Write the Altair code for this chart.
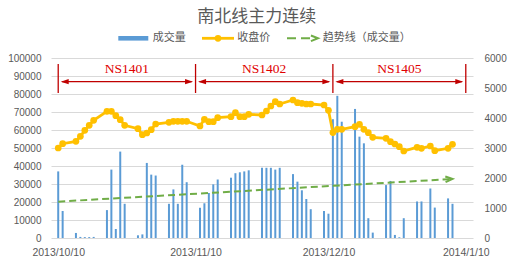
import altair as alt
import pandas as pd

# ---------------- data ----------------
dates = [
    "2013-10-10", "2013-10-11", "2013-10-14", "2013-10-15", "2013-10-16", "2013-10-17", "2013-10-18",
    "2013-10-21", "2013-10-22", "2013-10-23", "2013-10-24", "2013-10-25",
    "2013-10-28", "2013-10-29", "2013-10-30", "2013-10-31", "2013-11-01",
    "2013-11-04", "2013-11-05", "2013-11-06", "2013-11-07", "2013-11-08",
    "2013-11-11", "2013-11-12", "2013-11-13", "2013-11-14", "2013-11-15",
    "2013-11-18", "2013-11-19", "2013-11-20", "2013-11-21", "2013-11-22",
    "2013-11-25", "2013-11-26", "2013-11-27", "2013-11-28", "2013-11-29",
    "2013-12-02", "2013-12-03", "2013-12-04", "2013-12-05", "2013-12-06",
    "2013-12-09", "2013-12-10", "2013-12-11", "2013-12-12", "2013-12-13",
    "2013-12-16", "2013-12-17", "2013-12-18", "2013-12-19", "2013-12-20",
    "2013-12-23", "2013-12-24", "2013-12-25", "2013-12-26", "2013-12-27",
    "2013-12-30", "2013-12-31", "2014-01-02", "2014-01-03", "2014-01-06", "2014-01-07",
]
volume = [
    37000, 15000, 2800, 600, 500, 500, 600,
    15500, 38000, 5000, 48000, 19000,
    1500, 2000, 41700, 35200, 34700,
    19000, 27000, 19000, 40700, 31000,
    16800, 19300, 25000, 29800, 32500,
    33500, 36000, 36500, 37000, 37600,
    39000, 39000, 39000, 38000, 39000,
    35500, 31300, 26500, 21700, 16000,
    15000, 13500, 66000, 79000, 64600,
    71700, 56300, 52600, 11000, 3000,
    29400, 31700, 1700, 400, 11000,
    20300, 20300, 27500, 16900, 22000, 19000,
]
close = [
    3000, 3143, 3222, 3390, 3590, 3757, 3923,
    4222, 4222, 4077, 3943, 3757,
    3643, 3443, 3500, 3610, 3800,
    3857, 3890, 3890, 3890, 3890,
    3733, 3957, 3877, 3877, 4010,
    4043, 4177, 4043, 4043, 4123,
    4100, 4233, 4400, 4543, 4467,
    4600, 4510, 4490, 4467, 4467,
    4433, 4255, 3515, 3623, 3623,
    3710, 3790, 3623, 3510, 3357,
    3323, 3210, 3133, 3043, 2900,
    3023, 2990, 3067, 2910, 2990, 3123,
]
# trend line (成交量), end points
trend_dates = ["2013-10-10", "2014-01-07"]
trend_values = [20200, 32800]

# contract periods
contract_labels = ["NS1401", "NS1402", "NS1405"]
contract_bounds = ["2013-10-10", "2013-11-10", "2013-12-11", "2014-01-10"]

# axis ticks
x_tick_dates = ["2013-10-10", "2013-11-10", "2013-12-10", "2014-01-10"]
x_tick_labels = ["2013/10/10", "2013/11/10", "2013/12/10", "2014/1/10"]
left_ticks = list(range(0, 100001, 10000))
right_ticks = list(range(0, 6001, 1000))

title_text = "南北线主力连续"
legend_labels = ["成交量", "收盘价", "趋势线（成交量）"]

# ---------------- helpers ----------------
origin = pd.Timestamp("2013-10-10")


def day(s):
    return (pd.to_datetime(pd.Series(s)) - origin).dt.days.astype(float)


df = pd.DataFrame({"d": day(dates), "vol": volume, "close": close})
tdf = pd.DataFrame({"d": day(trend_dates), "v": trend_values})
bounds_d = list(day(contract_bounds))
bdf = pd.DataFrame({"d": bounds_d})
sdf = pd.DataFrame({
    "s": bounds_d[:-1],
    "e": bounds_d[1:],
    "label": contract_labels,
})
sdf["m"] = (sdf["s"] + sdf["e"]) / 2

tick_days = list(day(x_tick_dates))
label_expr = "''"
for dv, lab in reversed(list(zip(tick_days, x_tick_labels))):
    label_expr = f"datum.value == {dv} ? '{lab}' : ({label_expr})"

FONT = "Liberation Sans"
CJK = "Noto Sans CJK SC"
GRAY = "#595959"
BLUE = "#5B9BD5"
ORANGE = "#FFC000"
GREEN = "#70AD47"
RED = "#C00000"

W, H = 422, 180

xscale = alt.Scale(domain=[-0.5, 92.5], nice=False, zero=False)
xaxis = alt.Axis(values=tick_days, labelExpr=label_expr, grid=False, ticks=False,
                 domain=False, labelPadding=9, labelFont=FONT, labelFontSize=10.5,
                 labelColor=GRAY, title=None, labelFlush=False)


def X(field):
    return alt.X(f"{field}:Q", scale=xscale, axis=xaxis)


left_axis = alt.Axis(values=left_ticks, format="d", grid=True, gridColor="#D9D9D9", gridWidth=1,
                     ticks=False, domain=False, labelPadding=10, labelFont=FONT,
                     labelFontSize=10, labelColor=GRAY, title=None)
right_axis = alt.Axis(orient="right", values=right_ticks, format="d", grid=False, ticks=False,
                      domain=False, labelPadding=11, labelFont=FONT, labelFontSize=10,
                      labelColor=GRAY, title=None)
yl = alt.Scale(domain=[0, 100000], nice=False)
yr = alt.Scale(domain=[0, 6000], nice=False)

base = alt.Chart(df)

bars = base.mark_bar(size=2, color=BLUE).encode(
    x=X("d"), y=alt.Y("vol:Q", scale=yl, axis=left_axis)
)

trend = alt.Chart(tdf).mark_line(color=GREEN, strokeWidth=2, strokeDash=[7, 4]).encode(
    x=X("d"), y=alt.Y("v:Q", scale=yl, axis=left_axis)
)
chevron = "M-2,-0.8L0,0L-2,0.8"
trend_arrow = alt.Chart(tdf.tail(1)).mark_point(
    shape=chevron, size=50, filled=False, color=GREEN, strokeWidth=2, angle=357, opacity=1
).encode(x=X("d"), y=alt.Y("v:Q", scale=yl, axis=left_axis))

# contract annotations
vrules = alt.Chart(bdf).mark_rule(color=RED, strokeWidth=1.3).encode(
    x=X("d"), y=alt.value(6), y2=alt.value(35)
)
hrules = alt.Chart(sdf).mark_rule(color=RED, strokeWidth=1.3, xOffset=4, x2Offset=-4).encode(
    x=X("s"), x2="e:Q", y=alt.value(23.7)
)
arrow_l = alt.Chart(sdf).mark_point(
    shape="M0,0L2,-0.65L2,0.65Z", size=64, filled=True, color=RED, xOffset=2.5, opacity=1
).encode(x=X("s"), y=alt.value(23.7))
arrow_r = alt.Chart(sdf).mark_point(
    shape="M0,0L-2,-0.65L-2,0.65Z", size=64, filled=True, color=RED, xOffset=-2.5, opacity=1
).encode(x=X("e"), y=alt.value(23.7))
clabels = alt.Chart(sdf).mark_text(
    font="Liberation Serif", fontSize=13.5, color="#E00000", baseline="middle", align="center"
).encode(x=X("m"), y=alt.value(10.7), text="label:N")

# title
one = pd.DataFrame({"t": [title_text]})
title = alt.Chart(one).mark_text(
    font=CJK, fontSize=17, fontWeight="normal", color=GRAY, baseline="middle", align="center"
).encode(x=alt.value(205.7), y=alt.value(-41.3), text="t:N")

# legend
LY = -19.7
leg_rect = alt.Chart(one).mark_rect(color=BLUE).encode(
    x=alt.value(67.3), x2=alt.value(97.3), y=alt.value(-22), y2=alt.value(-17.4)
)
leg_line = alt.Chart(one).mark_rule(color=ORANGE, strokeWidth=2.8).encode(
    x=alt.value(151), x2=alt.value(183), y=alt.value(LY)
)
leg_dot = alt.Chart(one).mark_point(color=ORANGE, filled=True, size=45, opacity=1).encode(
    x=alt.value(167), y=alt.value(LY)
)
leg_dash = alt.Chart(one).mark_rule(color=GREEN, strokeWidth=2, strokeDash=[9, 5]).encode(
    x=alt.value(236), x2=alt.value(265), y=alt.value(LY)
)
leg_arrow = alt.Chart(one).mark_point(
    shape=chevron, size=50, filled=False, color=GREEN, strokeWidth=2, opacity=1
).encode(x=alt.value(267), y=alt.value(LY))


def leg_text(label, xpos):
    return alt.Chart(pd.DataFrame({"t": [label]})).mark_text(
        font=CJK, fontSize=11, color=GRAY, baseline="middle", align="left"
    ).encode(x=alt.value(xpos), y=alt.value(LY), text="t:N")


legend_x = [101.7, 186.3, 271.7]
leg_texts = [leg_text(l, xp) for l, xp in zip(legend_labels, legend_x)]

left = alt.layer(bars, trend, trend_arrow, vrules, hrules, arrow_l, arrow_r, clabels,
                 title, leg_rect, leg_line, leg_dot, leg_dash, leg_arrow, *leg_texts)

line = base.mark_line(color=ORANGE, strokeWidth=2.8).encode(
    x=X("d"), y=alt.Y("close:Q", scale=yr, axis=right_axis)
)
pts = base.mark_point(color=ORANGE, filled=True, size=45, opacity=1).encode(
    x=X("d"), y=alt.Y("close:Q", scale=yr, axis=right_axis)
)
right = alt.layer(line, pts)

chart = alt.layer(left, right).resolve_scale(y="independent").properties(
    width=W, height=H,
    autosize=alt.AutoSizeParams(type="none"),
    padding={"left": 51, "top": 58, "right": 41, "bottom": 28},
    background="white",
).configure_view(stroke=None)

chart.save("out.html", embed_options={"renderer": "svg", "actions": False})
